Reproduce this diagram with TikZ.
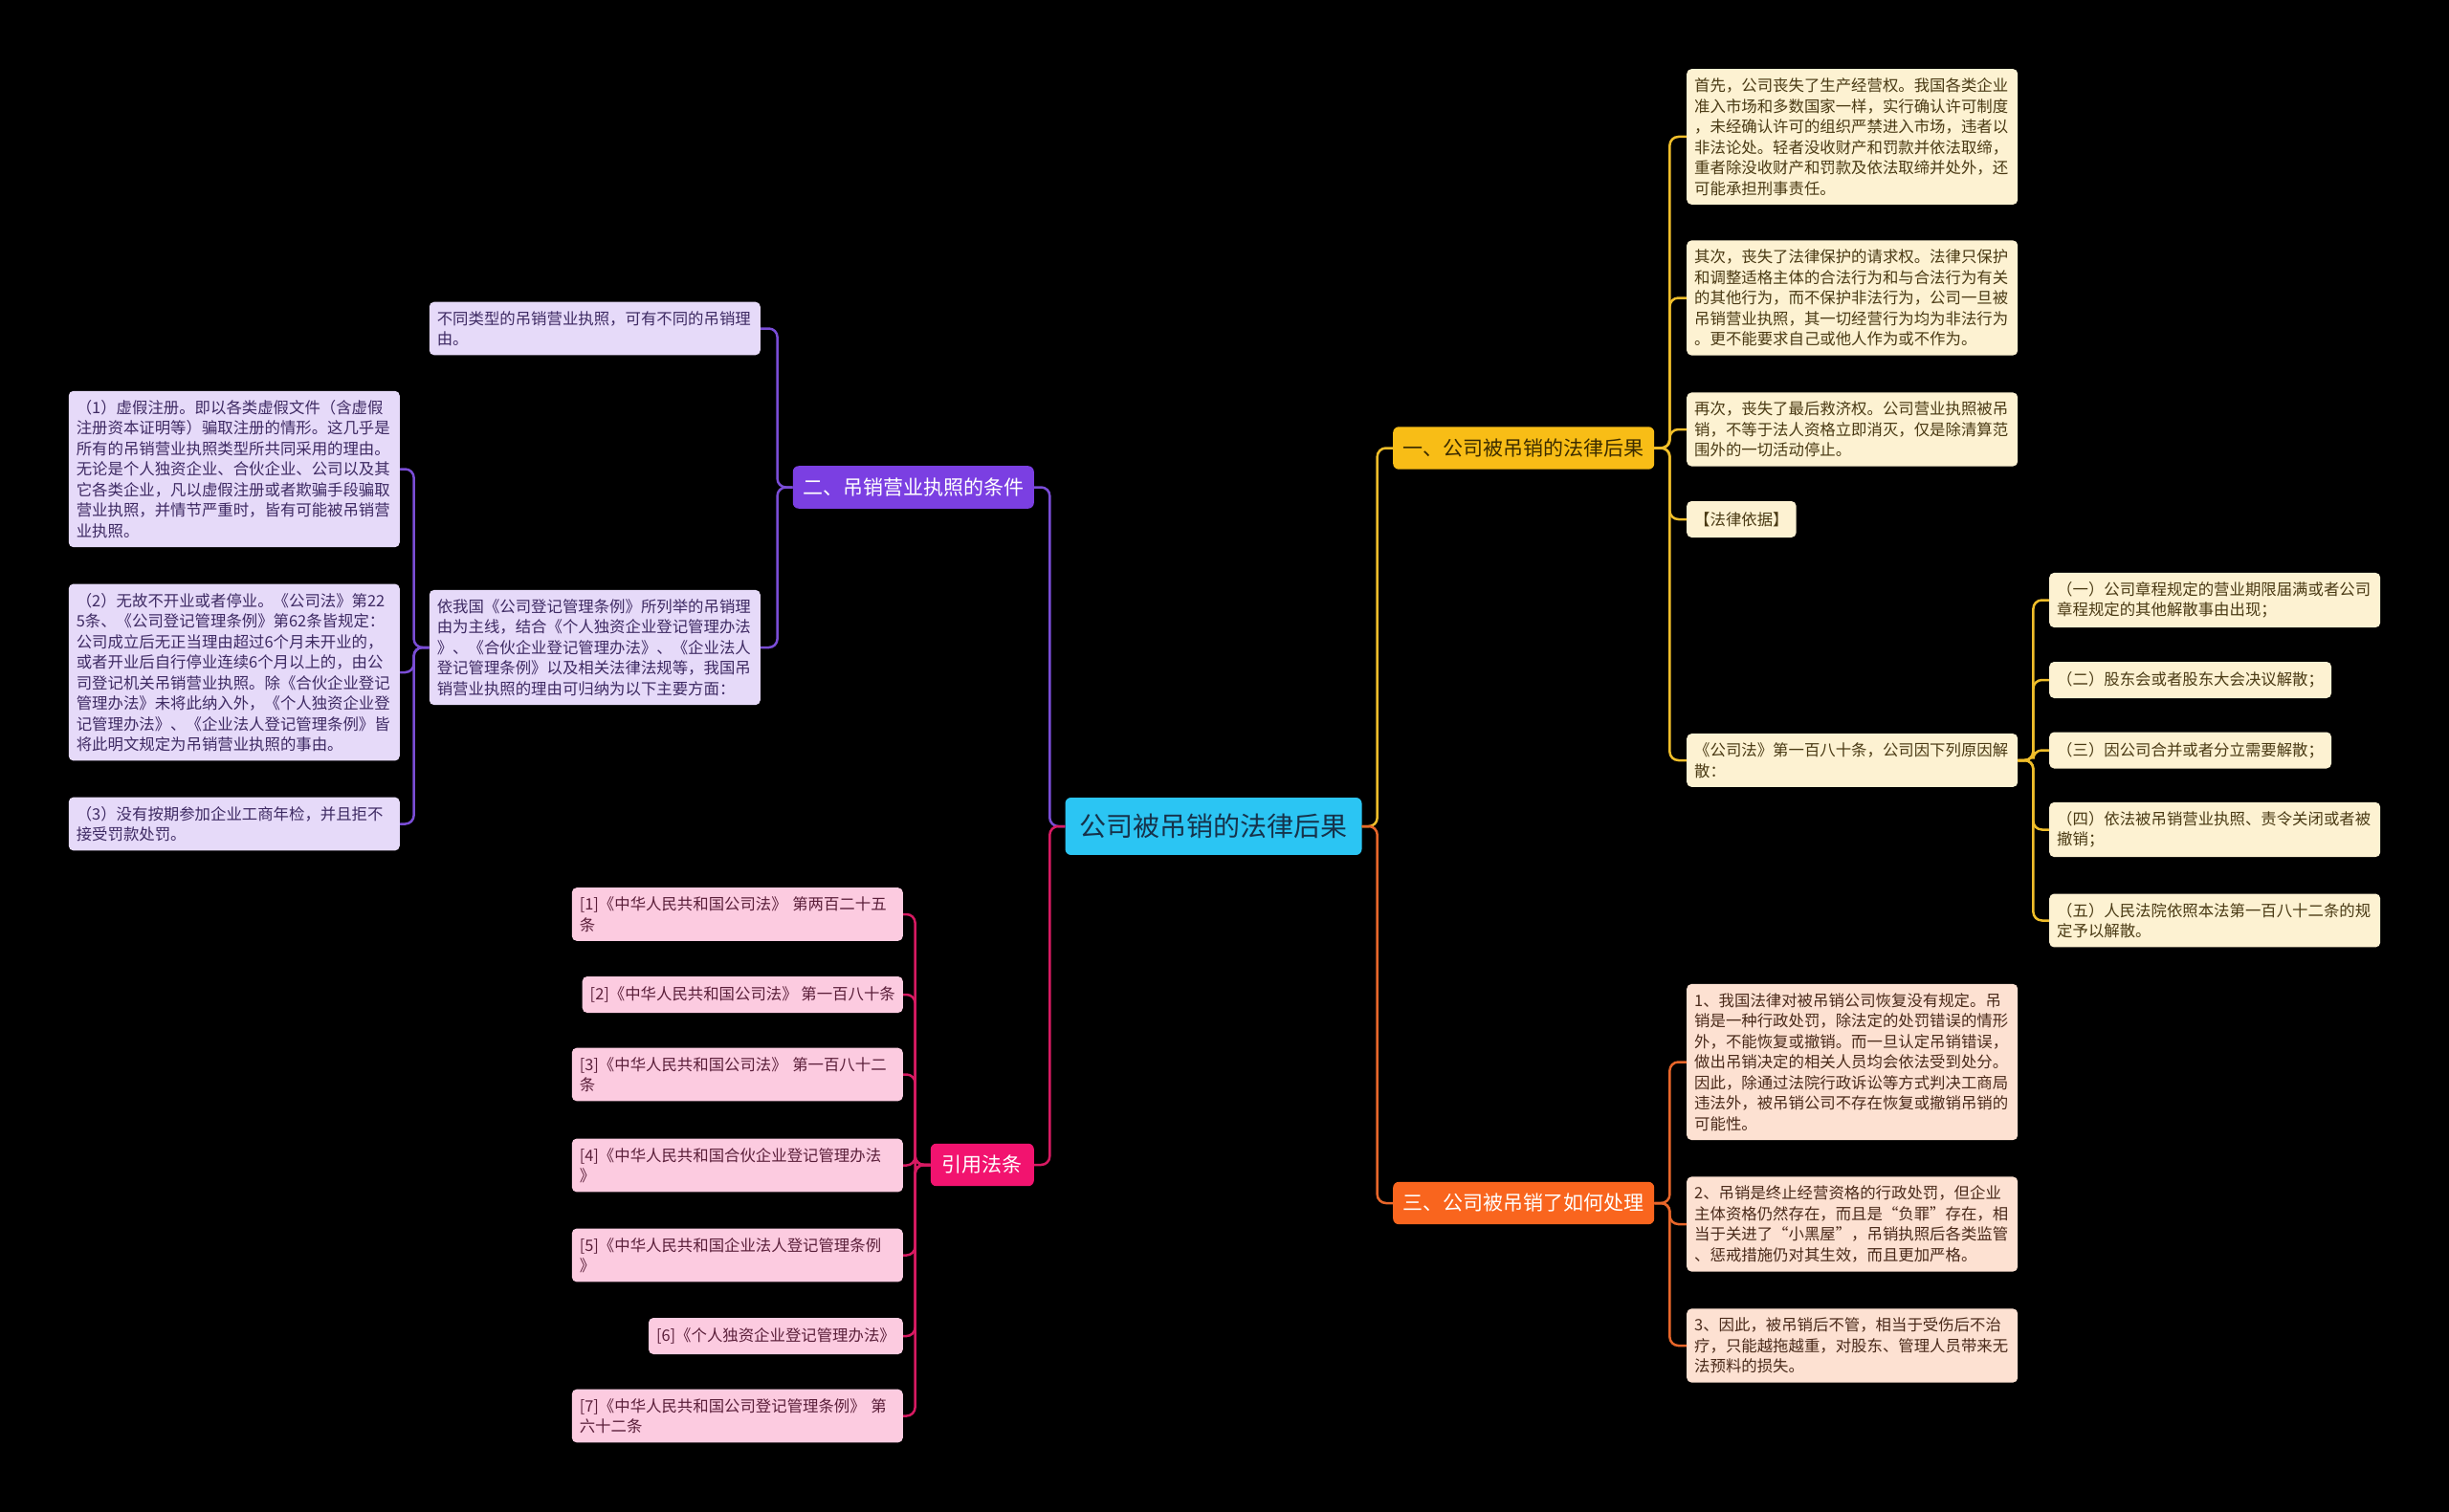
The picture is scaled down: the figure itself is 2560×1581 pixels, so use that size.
\documentclass[tikz,border=0pt]{standalone}
\usepackage{fontspec}
\setmainfont{Noto Sans CJK SC}
\usepackage{tikz}
\usetikzlibrary{positioning}

\definecolor{rootfill}{HTML}{2BC5F3}
\definecolor{roottext}{HTML}{16324A}
\definecolor{yellowfill}{HTML}{F8BD16}
\definecolor{yellowline}{HTML}{F0BE2A}
\definecolor{yellowtext}{HTML}{3B2C00}
\definecolor{orangefill}{HTML}{F9651E}
\definecolor{orangeline}{HTML}{E8662A}
\definecolor{purplefill}{HTML}{7B3FE2}
\definecolor{purpleline}{HTML}{7A4DD6}
\definecolor{pinkfill}{HTML}{F2136F}
\definecolor{pinkline}{HTML}{D71A62}
\definecolor{creamfill}{HTML}{FDF2D2}
\definecolor{creamtext}{HTML}{4A3A14}
\definecolor{peachfill}{HTML}{FDE1D2}
\definecolor{peachtext}{HTML}{4A2A1A}
\definecolor{lavfill}{HTML}{E6DAF9}
\definecolor{lavtext}{HTML}{3E2A63}
\definecolor{rosefill}{HTML}{FCCBE0}
\definecolor{rosetext}{HTML}{5B1F3A}

\begin{document}
\begin{tikzpicture}[x=1pt,y=-1pt]
    \tikzstyle{root}=[rounded corners=6pt, fill=rootfill, text=roottext,
            inner xsep=15pt, inner ysep=17pt,
            font=\fontsize{28}{32}\selectfont]
    \tikzstyle{branch}=[rounded corners=6pt, inner xsep=10.5pt,
            inner ysep=12.5pt, font=\fontsize{21}{24}\selectfont]
    \tikzstyle{leaf}=[rounded corners=5pt, inner xsep=8pt, inner ysep=9.5pt,
            minimum height=38pt, align=left,
            font=\fontsize{16.4}{21.5}\selectfont]
    \tikzstyle{wide}=[text width=330pt]
    \tikzstyle{link}=[line width=2.5pt, rounded corners=9pt]

    % background and frame
    \fill[black] (0,0) rectangle (2560,1581);
    \useasboundingbox (0,0) rectangle (2560,1581);

    \node[root] (root) at (1268.5,864) {公司被吊销的法律后果};

    \node[branch, fill=yellowfill, text=yellowtext, anchor=west]
    (b1) at (1456,468.5) {一、公司被吊销的法律后果};
    \node[branch, fill=orangefill, text=white, anchor=west]
    (b3) at (1456,1258) {三、公司被吊销了如何处理};
    \node[branch, fill=purplefill, text=white, anchor=east]
    (b2) at (1081,509.5) {二、吊销营业执照的条件};
    \node[branch, fill=pinkfill, text=white, anchor=east, inner xsep=12pt]
    (b4) at (1081,1218) {引用法条};

    % first branch
    \node[leaf, wide, fill=creamfill, text=creamtext, anchor=west] (l1a)
    at (1763,143) {首先，公司丧失了生产经营权。我国各类企业\\
    准入市场和多数国家一样，实行确认许可制度\\
    ，未经确认许可的组织严禁进入市场，违者以\\
    非法论处。轻者没收财产和罚款并依法取缔，\\
    重者除没收财产和罚款及依法取缔并处外，还\\
    可能承担刑事责任。};
    \node[leaf, wide, fill=creamfill, text=creamtext, anchor=west] (l1b)
    at (1763,311.5) {其次，丧失了法律保护的请求权。法律只保护\\
    和调整适格主体的合法行为和与合法行为有关\\
    的其他行为，而不保护非法行为，公司一旦被\\
    吊销营业执照，其一切经营行为均为非法行为\\
    。更不能要求自己或他人作为或不作为。};
    \node[leaf, wide, fill=creamfill, text=creamtext, anchor=west] (l1c)
    at (1763,449) {再次，丧失了最后救济权。公司营业执照被吊\\
    销，不等于法人资格立即消灭，仅是除清算范\\
    围外的一切活动停止。};
    \node[leaf, fill=creamfill, text=creamtext, anchor=west] (l1d)
    at (1763,543) {【法律依据】};
    \node[leaf, wide, fill=creamfill, text=creamtext, anchor=west] (l1e)
    at (1763,795) {《公司法》第一百八十条，公司因下列原因解\\
    散：};

    \node[leaf, wide, fill=creamfill, text=creamtext, anchor=west] (ka)
    at (2142,627.5) {（一）公司章程规定的营业期限届满或者公司\\
    章程规定的其他解散事由出现；};
    \node[leaf, fill=creamfill, text=creamtext, anchor=west] (kb)
    at (2142,711) {（二）股东会或者股东大会决议解散；};
    \node[leaf, fill=creamfill, text=creamtext, anchor=west] (kc)
    at (2142,784.5) {（三）因公司合并或者分立需要解散；};
    \node[leaf, wide, fill=creamfill, text=creamtext, anchor=west] (kd)
    at (2142,867.5) {（四）依法被吊销营业执照、责令关闭或者被\\
    撤销；};
    \node[leaf, wide, fill=creamfill, text=creamtext, anchor=west] (ke)
    at (2142,962.5) {（五）人民法院依照本法第一百八十二条的规\\
    定予以解散。};

    % third branch
    \node[leaf, wide, fill=peachfill, text=peachtext, anchor=west] (l3a)
    at (1763,1110.5) {1、我国法律对被吊销公司恢复没有规定。吊\\
    销是一种行政处罚，除法定的处罚错误的情形\\
    外，不能恢复或撤销。而一旦认定吊销错误，\\
    做出吊销决定的相关人员均会依法受到处分。\\
    因此，除通过法院行政诉讼等方式判决工商局\\
    违法外，被吊销公司不存在恢复或撤销吊销的\\
    可能性。};
    \node[leaf, wide, fill=peachfill, text=peachtext, anchor=west] (l3b)
    at (1763,1280) {2、吊销是终止经营资格的行政处罚，但企业\\
    主体资格仍然存在，而且是“负罪”存在，相\\
    当于关进了“小黑屋”，吊销执照后各类监管\\
    、惩戒措施仍对其生效，而且更加严格。};
    \node[leaf, wide, fill=peachfill, text=peachtext, anchor=west] (l3c)
    at (1763,1407) {3、因此，被吊销后不管，相当于受伤后不治\\
    疗，只能越拖越重，对股东、管理人员带来无\\
    法预料的损失。};

    % second branch
    \node[leaf, wide, fill=lavfill, text=lavtext, anchor=east] (l2a)
    at (795,343.5) {不同类型的吊销营业执照，可有不同的吊销理\\
    由。};
    \node[leaf, wide, fill=lavfill, text=lavtext, anchor=east] (l2b)
    at (795,677) {依我国《公司登记管理条例》所列举的吊销理\\
    由为主线，结合《个人独资企业登记管理办法\\
    》、《合伙企业登记管理办法》、《企业法人\\
    登记管理条例》以及相关法律法规等，我国吊\\
    销营业执照的理由可归纳为以下主要方面：};

    \node[leaf, wide, fill=lavfill, text=lavtext, anchor=east] (ra)
    at (418,490.5) {（1）虚假注册。即以各类虚假文件（含虚假\\
    注册资本证明等）骗取注册的情形。这几乎是\\
    所有的吊销营业执照类型所共同采用的理由。\\
    无论是个人独资企业、合伙企业、公司以及其\\
    它各类企业，凡以虚假注册或者欺骗手段骗取\\
    营业执照，并情节严重时，皆有可能被吊销营\\
    业执照。};
    \node[leaf, wide, fill=lavfill, text=lavtext, anchor=east] (rb)
    at (418,703) {（2）无故不开业或者停业。《公司法》第22\\
    5条、《公司登记管理条例》第62条皆规定：\\
    公司成立后无正当理由超过6个月未开业的，\\
    或者开业后自行停业连续6个月以上的，由公\\
    司登记机关吊销营业执照。除《合伙企业登记\\
    管理办法》未将此纳入外，《个人独资企业登\\
    记管理办法》、《企业法人登记管理条例》皆\\
    将此明文规定为吊销营业执照的事由。};
    \node[leaf, wide, fill=lavfill, text=lavtext, anchor=east] (rc)
    at (418,861.5) {（3）没有按期参加企业工商年检，并且拒不\\
    接受罚款处罚。};

    % cited articles
    \node[leaf, wide, fill=rosefill, text=rosetext, anchor=east] (c1)
    at (944,956) {[1]《中华人民共和国公司法》 第两百二十五\\
    条};
    \node[leaf, fill=rosefill, text=rosetext, anchor=east] (c2)
    at (944,1040) {[2]《中华人民共和国公司法》 第一百八十条};
    \node[leaf, wide, fill=rosefill, text=rosetext, anchor=east] (c3)
    at (944,1123.5) {[3]《中华人民共和国公司法》 第一百八十二\\
    条};
    \node[leaf, wide, fill=rosefill, text=rosetext, anchor=east] (c4)
    at (944,1218.5) {[4]《中华人民共和国合伙企业登记管理办法\\
    》};
    \node[leaf, wide, fill=rosefill, text=rosetext, anchor=east] (c5)
    at (944,1312.5) {[5]《中华人民共和国企业法人登记管理条例\\
    》};
    \node[leaf, fill=rosefill, text=rosetext, anchor=east] (c6)
    at (944,1397) {[6]《个人独资企业登记管理办法》};
    \node[leaf, wide, fill=rosefill, text=rosetext, anchor=east] (c7)
    at (944,1480.5) {[7]《中华人民共和国公司登记管理条例》 第\\
    六十二条};

    % connectors
    \draw[link, yellowline] (root.east) -- ++(16,0) |- (b1.west);
    \draw[link, orangeline] (root.east) -- ++(16,0) |- (b3.west);
    \draw[link, purpleline] (root.west) -- ++(-16,0) |- (b2.east);
    \draw[link, pinkline] (root.west) -- ++(-16,0) |- (b4.east);

    \foreach \c in {a,b,c,d,e}
    {
        \draw[link, yellowline] (b1.east) -- ++(16,0) |- (l1\c.west);
        \draw[link, yellowline] (l1e.east) -- ++(16,0) |- (k\c.west);
    }

    \foreach \c in {a,b,c}
    {
        \draw[link, orangeline] (b3.east) -- ++(16,0) |- (l3\c.west);
        \draw[link, purpleline] (l2b.west) -- ++(-16,0) |- (r\c.east);
    }

    \foreach \c in {a,b}
    {
        \draw[link, purpleline] (b2.west) -- ++(-16,0) |- (l2\c.east);
    }

    \foreach \c in {1,...,7}
    {
        \draw[link, pinkline] (b4.west) -- ++(-16,0) |- (c\c.east);
    }

\end{tikzpicture}
\end{document}
